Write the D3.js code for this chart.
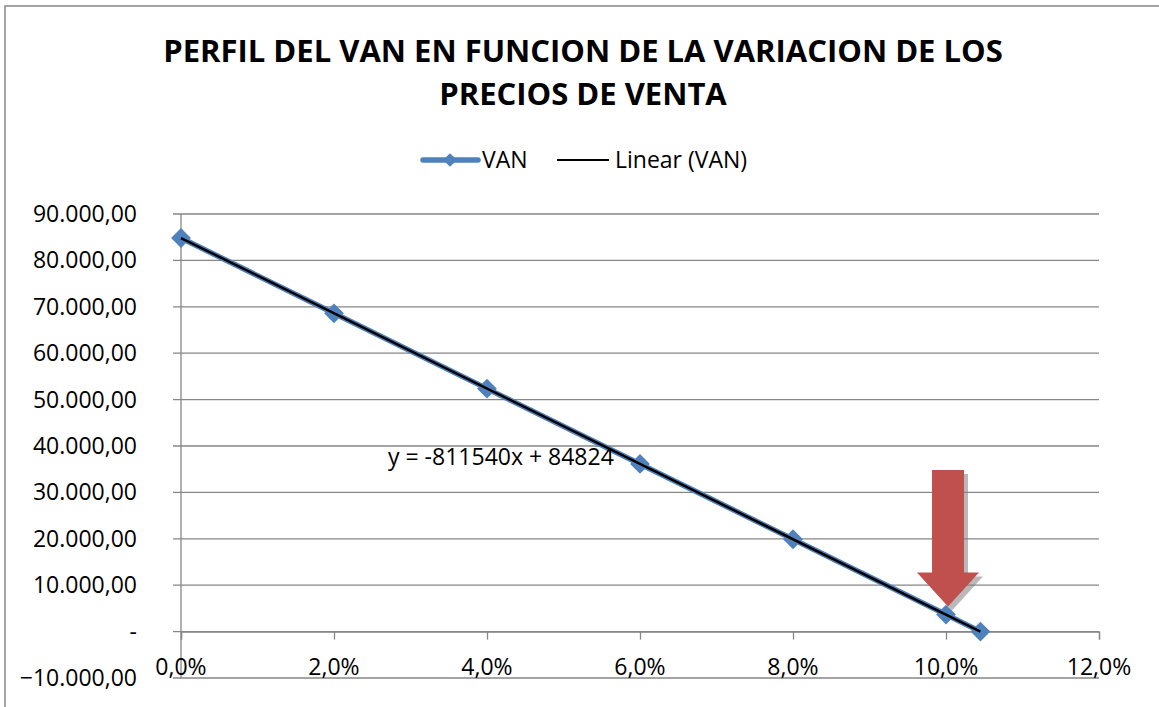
<!DOCTYPE html>
<html>
<head>
<meta charset="utf-8">
<script src="https://cdn.jsdelivr.net/npm/d3@7"></script>
<style>
  body { margin: 0; background: #fff; }
  text { font-family: "Open Sans", "Noto Sans", sans-serif; fill: #000; }
</style>
</head>
<body>
<script>
// datos del grafico
var titleLines = ["PERFIL DEL VAN EN FUNCION DE LA VARIACION DE LOS", "PRECIOS DE VENTA"];
var variacion = [0, 0.02, 0.04, 0.06, 0.08, 0.10, 0.1045];
var van = [84824, 68593, 52362, 36132, 19901, 3670, 0];
var xTicks = [0, 0.02, 0.04, 0.06, 0.08, 0.10, 0.12];
var yTicks = [-10000, 0, 10000, 20000, 30000, 40000, 50000, 60000, 70000, 80000, 90000];
var trendSlope = -811540, trendIntercept = 84824;
var trendLabel = "y = -811540x + 84824";
var legendNames = ["VAN", "Linear (VAN)"];
var arrowAt = 0.10;

var W = 1159, H = 707;
var blue = "#4F81BD", grid = "#868686", red = "#C0504D";

var svg = d3.select(document.body).append("svg")
    .attr("width", W).attr("height", H);

// marco del area del grafico
svg.append("rect")
    .attr("x", 5).attr("y", 6).attr("width", 1160).attr("height", 710)
    .attr("fill", "none").attr("stroke", grid).attr("stroke-width", 1.5);

var x = d3.scaleLinear().domain([0, 0.12]).range([181, 1099]);
var y = d3.scaleLinear().domain([-10000, 90000]).range([678, 214]);

// titulo
svg.append("g").selectAll("text").data(titleLines).enter().append("text")
    .attr("x", 583).attr("y", function (d, i) { return 62 + i * 43; })
    .attr("text-anchor", "middle")
    .style("font-weight", "bold").style("font-size", "31px")
    .text(function (d) { return d; });

// lineas de cuadricula
svg.append("g").selectAll("line").data(yTicks).enter().append("line")
    .attr("x1", 173).attr("x2", 1099)
    .attr("y1", function (d) { return y(d); }).attr("y2", function (d) { return y(d); })
    .attr("stroke", grid).attr("stroke-width", 1.3);

// eje Y
svg.append("line").attr("x1", x(0)).attr("x2", x(0)).attr("y1", y(90000)).attr("y2", y(-10000))
    .attr("stroke", grid).attr("stroke-width", 1.3);

var fmt = function (d) {
    if (d === 0) return "-";
    var s = d3.format(",.2f")(d);
    return s.replace(/,/g, "#").replace(".", ",").replace(/#/g, ".");
};
svg.append("g").selectAll("text").data(yTicks).enter().append("text")
    .attr("x", 137).attr("y", function (d) { return y(d); })
    .attr("dy", "0.35em").attr("text-anchor", "end")
    .style("font-size", "23px")
    .text(fmt);

// eje X (cruza en 0)
var xAxis = svg.append("g").attr("transform", "translate(0," + y(0) + ")")
    .call(d3.axisBottom(x).tickValues(xTicks).tickSize(8).tickFormat(""));
xAxis.select(".domain").attr("stroke", grid).attr("stroke-width", 1.3);
xAxis.selectAll(".tick line").attr("stroke", grid).attr("stroke-width", 1.3);

svg.append("g").selectAll("text").data(xTicks).enter().append("text")
    .attr("x", function (d) { return x(d); }).attr("y", 675)
    .attr("text-anchor", "middle")
    .style("font-size", "23px")
    .text(function (d) { return d3.format(".1f")(d * 100).replace(".", ",") + "%"; });

// flecha
var ax = x(arrowAt) + 2, ptY = y(van[variacion.indexOf(arrowAt)]);
var arrowPts = function (dx, dy) {
    var top = 470, base = ptY - 42, tip = ptY - 8;
    return [[ax - 16, top], [ax + 16, top], [ax + 16, base], [ax + 31, base], [ax, tip],
            [ax - 31, base], [ax - 16, base]].map(function (p) { return [p[0] + dx, p[1] + dy]; });
};
svg.append("polygon").attr("points", arrowPts(4, 4).join(" "))
    .attr("fill", "#808080").attr("opacity", 0.55);
svg.append("polygon").attr("points", arrowPts(0, 0).join(" "))
    .attr("fill", red);

// serie VAN
var pts = variacion.map(function (d, i) { return [d, van[i]]; });
var line = d3.line().x(function (d) { return x(d[0]); }).y(function (d) { return y(d[1]); });
svg.append("path").datum(pts).attr("d", line)
    .attr("fill", "none").attr("stroke", blue).attr("stroke-width", 5.5);

var diamond = d3.symbol().type(d3.symbolDiamond2).size(250);
svg.append("g").selectAll("path").data(pts).enter().append("path")
    .attr("d", diamond)
    .attr("transform", function (d) { return "translate(" + x(d[0]) + "," + y(d[1]) + ")"; })
    .attr("fill", blue);

// linea de tendencia
var trend = [0, variacion[variacion.length - 1]].map(function (d) { return [d, trendSlope * d + trendIntercept]; });
svg.append("path").datum(trend).attr("d", line)
    .attr("fill", "none").attr("stroke", "#000").attr("stroke-width", 2.5);

svg.append("text").attr("x", 388).attr("y", 465)
    .style("font-size", "23px").text(trendLabel);

// leyenda
var lg = svg.append("g");
lg.append("line").attr("x1", 423).attr("x2", 478).attr("y1", 160).attr("y2", 160)
    .attr("stroke", blue).attr("stroke-width", 5.5).attr("stroke-linecap", "round");
lg.append("path").attr("d", d3.symbol().type(d3.symbolDiamond2).size(120))
    .attr("transform", "translate(450,160)").attr("fill", blue);
lg.append("text").attr("x", 482).attr("y", 160).attr("dy", "0.35em")
    .style("font-size", "23px").text(legendNames[0]);
lg.append("line").attr("x1", 557).attr("x2", 609).attr("y1", 160).attr("y2", 160)
    .attr("stroke", "#000").attr("stroke-width", 2);
lg.append("text").attr("x", 615).attr("y", 160).attr("dy", "0.35em")
    .style("font-size", "23px").text(legendNames[1]);
</script>
</body>
</html>
